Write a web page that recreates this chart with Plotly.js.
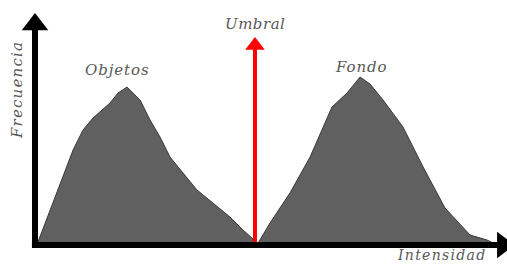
<!DOCTYPE html>
<html>
<head>
<meta charset="utf-8">
<script src="https://cdn.plot.ly/plotly-3.0.1.min.js"></script>
<style>
  html, body { margin: 0; padding: 0; background: #ffffff; }
  #chart { width: 507px; height: 264px; }
</style>
</head>
<body>
<div id="chart"></div>
<script>
// Intensity (0-255 grey levels) and frequency (arbitrary units)
const objetosIntensity = [1, 9.9, 15.5, 21, 26.5, 32, 37, 41.4, 45.8, 50.8, 58, 63.5, 69, 74.5, 81.7, 89.4, 98.2, 107.6, 114.8, 120.3, 121.4];
const objetosFrequency = [0, 21, 34, 47.5, 57.5, 63.5, 67.5, 71, 76, 79, 72.5, 62.5, 54, 44, 36, 27.5, 21, 14, 7.5, 3, 0];

const fondoIntensity = [122.5, 129.7, 140.7, 151.8, 163.9, 172.2, 179.4, 184.9, 192.1, 203.1, 214.2, 226.3, 240.1, 249.5, 255];
const fondoFrequency = [0, 11, 26, 44, 69, 76, 84, 80.5, 72.5, 59, 39, 18.5, 5, 2.5, 0];

const umbral = 121.4;           // threshold intensity
const umbralTop = 99.75;        // height of the threshold arrow
const axisTopY = 110.25;        // frequency axis arrow position
const axisEndX = 258.2;         // intensity axis arrow position

const labels = {
  objetos: 'Objetos', fondo: 'Fondo', umbral: 'Umbral',
  xTitle: 'Intensidad', yTitle: 'Frecuencia'
};

const fillColor = '#606060';
const edgeColor = '#3a3a3a';
const textColor = '#585858';
const textFont = { family: 'DejaVu Serif', size: 15, color: textColor, style: 'italic' };
const xTitleFont = { family: 'DejaVu Serif', size: 14, color: textColor, style: 'italic' };
const spaced = (s, px) => '<span style="letter-spacing:' + px + 'px">' + s + '</span>';

const traces = [
  {
    x: objetosIntensity, y: objetosFrequency, type: 'scatter', mode: 'lines',
    fill: 'tozeroy', fillcolor: fillColor, line: { color: edgeColor, width: 1 },
    hoverinfo: 'skip'
  },
  {
    x: fondoIntensity, y: fondoFrequency, type: 'scatter', mode: 'lines',
    fill: 'tozeroy', fillcolor: fillColor, line: { color: edgeColor, width: 1 },
    hoverinfo: 'skip'
  },
  // threshold line
  {
    x: [umbral, umbral], y: [0, umbralTop - 1.5], type: 'scatter', mode: 'lines',
    line: { color: '#ff0000', width: 4 }, hoverinfo: 'skip', cliponaxis: false
  },
  // threshold arrowhead
  {
    x: [umbral], y: [umbralTop], type: 'scatter', mode: 'markers',
    marker: { symbol: 'triangle-up', size: 17, color: '#ff0000' }, hoverinfo: 'skip', cliponaxis: false
  },
  // axis arrowheads
  {
    x: [0], y: [axisTopY], type: 'scatter', mode: 'markers',
    marker: { symbol: 'triangle-up', size: 23, color: '#000000' }, hoverinfo: 'skip', cliponaxis: false
  },
  {
    x: [axisEndX], y: [0], type: 'scatter', mode: 'markers',
    marker: { symbol: 'triangle-right', size: 23, color: '#000000' }, hoverinfo: 'skip', cliponaxis: false
  }
];

const layout = {
  width: 507, height: 264,
  margin: { l: 0, r: 0, t: 0, b: 0, pad: 0 },
  paper_bgcolor: '#ffffff', plot_bgcolor: '#ffffff',
  showlegend: false,
  xaxis: { range: [-19.32, 260.5], visible: false, fixedrange: true },
  yaxis: { range: [-9.5, 122.5], visible: false, fixedrange: true },
  shapes: [
    { type: 'line', xref: 'x', yref: 'y', x0: 0, x1: 0, y0: -1.5, y1: axisTopY - 1.5,
      line: { color: '#000000', width: 6 }, layer: 'above' },
    { type: 'line', xref: 'x', yref: 'y', x0: -1.7, x1: axisEndX - 3, y0: 0, y1: 0,
      line: { color: '#000000', width: 6 }, layer: 'above' }
  ],
  annotations: [
    { x: 45.3, y: 87.5, xref: 'x', yref: 'y', text: spaced(labels.objetos, 0.9), showarrow: false, font: textFont },
    { x: 179.9, y: 89, xref: 'x', yref: 'y', text: spaced(labels.fondo, 0.9), showarrow: false, font: textFont },
    { x: umbral, y: 110.5, xref: 'x', yref: 'y', text: spaced(labels.umbral, 0.5), showarrow: false, font: textFont },
    { x: 224.6, y: -5.2, xref: 'x', yref: 'y', text: spaced(labels.xTitle, 1.3), showarrow: false, font: xTitleFont, borderpad: 0 },
    { x: -9.9, y: 77.5, xref: 'x', yref: 'y', text: spaced(labels.yTitle, 1.2), showarrow: false, font: textFont, textangle: -90 }
  ]
};

Plotly.newPlot('chart', traces, layout, { staticPlot: true, displayModeBar: false });
</script>
</body>
</html>
